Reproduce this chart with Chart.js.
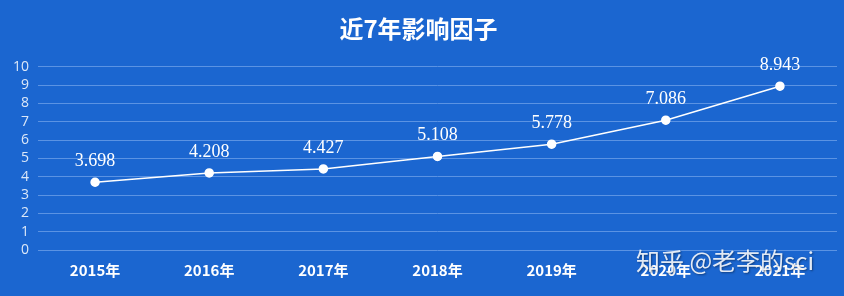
<!DOCTYPE html>
<html>
<head>
<meta charset="utf-8">
<script src="https://cdn.jsdelivr.net/npm/chart.js@4"></script>
<style>
  html, body { margin: 0; padding: 0; background: #1b66d0; }
  #wrap { width: 844px; height: 296px; }
</style>
</head>
<body>
<div id="wrap"><canvas id="ifChart"></canvas></div>
<script>
// ── Data ─────────────────────────────────────────────────────
const years = ["2015年", "2016年", "2017年", "2018年", "2019年", "2020年", "2021年"];
const impactFactor = [3.698, 4.208, 4.427, 5.108, 5.778, 7.086, 8.943];
const chartTitle = "近7年影响因子";
const watermark = "知乎 @老李的sci";

const BG = "#1b66d0";

// ── Plugins ──────────────────────────────────────────────────
const bgPlugin = {
    id: "bgFill",
    beforeDraw(chart) {
        const ctx = chart.ctx;
        ctx.save();
        ctx.fillStyle = BG;
        ctx.fillRect(0, 0, chart.width, chart.height);
        ctx.restore();
    },
};

// value labels above each point
const valueLabels = {
    id: "valueLabels",
    afterDatasetsDraw(chart) {
        const ctx = chart.ctx;
        const meta = chart.getDatasetMeta(0);
        ctx.save();
        ctx.fillStyle = "#ffffff";
        ctx.font = "18px 'Liberation Serif', 'DejaVu Serif', serif";
        ctx.textAlign = "center";
        ctx.textBaseline = "middle";
        meta.data.forEach((pt, i) => {
            ctx.fillText(impactFactor[i].toFixed(3), pt.x, pt.y - 21);
        });
        ctx.restore();
    },
};

const watermarkPlugin = {
    id: "watermark",
    afterDraw(chart) {
        const ctx = chart.ctx;
        ctx.save();
        ctx.font = "24px 'Noto Sans CJK SC', sans-serif";
        ctx.textBaseline = "middle";
        ctx.textAlign = "left";
        ctx.shadowColor = "rgba(0,0,0,0.45)";
        ctx.shadowBlur = 2;
        ctx.shadowOffsetX = 1;
        ctx.shadowOffsetY = 1;
        ctx.fillStyle = "rgba(255,255,255,0.88)";
        ctx.fillText(watermark, 636, 261);
        ctx.restore();
    },
};

// ── Chart ────────────────────────────────────────────────────
const ctx = document.getElementById("ifChart").getContext("2d");
new Chart(ctx, {
    type: "line",
    data: {
        labels: years,
        datasets: [{
            label: "影响因子",
            data: impactFactor,
            borderColor: "#ffffff",
            borderWidth: 1.5,
            pointBackgroundColor: "#ffffff",
            pointBorderColor: "#ffffff",
            pointRadius: 4,
            tension: 0,
        }],
    },
    options: {
        responsive: true,
        maintainAspectRatio: false,
        animation: false,
        layout: { padding: { left: 0, right: 7, top: 0, bottom: 14 } },
        plugins: {
            legend: { display: false },
            tooltip: { enabled: false },
            title: {
                display: true,
                text: chartTitle,
                color: "#ffffff",
                font: { family: "'Noto Sans CJK SC', sans-serif", size: 24, weight: "bold" },
                padding: { top: 14, bottom: 24 },
            },
        },
        scales: {
            x: {
                offset: true,
                grid: { display: false },
                border: { display: false },
                ticks: {
                    color: "#ffffff",
                    padding: 3,
                    maxRotation: 0,
                    font: { family: "'Noto Sans CJK SC', sans-serif", size: 15, weight: "bold" },
                },
            },
            y: {
                min: 0,
                max: 10,
                afterFit(scale) { scale.width = 38; },
                grid: { color: "#5b93e3", drawTicks: false },
                border: { display: false },
                ticks: {
                    stepSize: 1,
                    autoSkip: false,
                    color: "#dce8f8",
                    padding: 9,
                    font: { family: "'Open Sans', sans-serif", size: 14 },
                },
            },
        },
    },
    plugins: [bgPlugin, valueLabels, watermarkPlugin],
});
</script>
</body>
</html>
